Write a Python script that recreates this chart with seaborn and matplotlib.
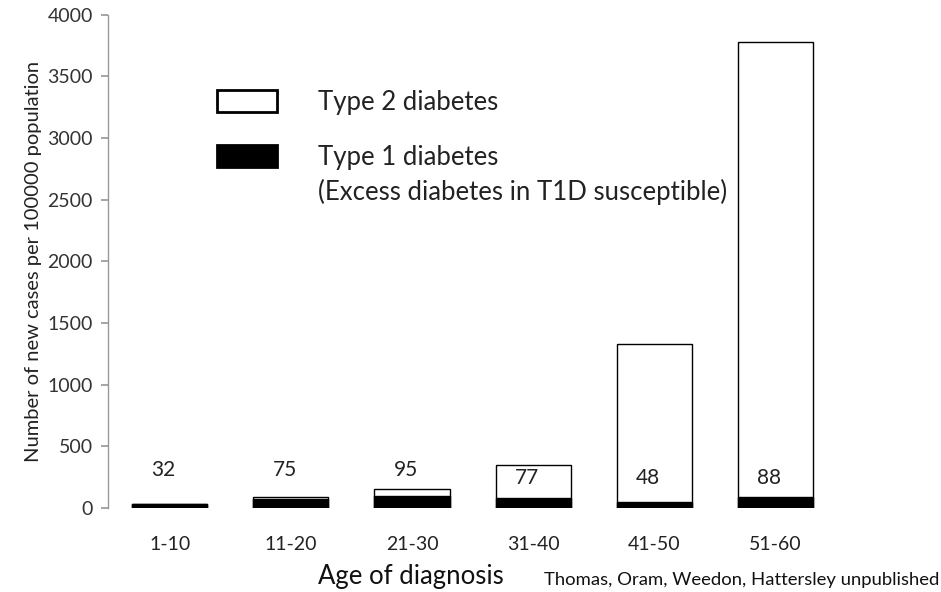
import matplotlib
matplotlib.use("Agg")
import matplotlib.pyplot as plt
import seaborn as sns
import pandas as pd
from matplotlib.patches import Patch

# === DATA ===
age_groups = ["1-10", "11-20", "21-30", "31-40", "41-50", "51-60"]
type1_cases = [32, 75, 95, 77, 48, 88]
type2_cases = [0, 15, 55, 273, 1282, 3692]
total_cases = [a + b for a, b in zip(type1_cases, type2_cases)]

df = pd.DataFrame({"age": age_groups, "type1": type1_cases, "total": total_cases})

sns.set_theme(style="white")
plt.rcParams["font.family"] = ["Lato", "DejaVu Sans"]

fig = plt.figure(figsize=(9.41, 5.92), dpi=100)
ax = fig.add_axes([0.1148, 0.142, 0.78, 0.833])

# white bar = total (Type 2 on top), black bar = Type 1 part
sns.barplot(data=df, x="age", y="total", color="white", edgecolor="black",
            linewidth=1.0, width=0.62, saturation=1, ax=ax)
sns.barplot(data=df, x="age", y="type1", color="black", edgecolor="black",
            linewidth=1.0, width=0.62, saturation=1, ax=ax)

# Type 1 numbers
for i, v in enumerate(type1_cases):
    y = 310 if total_cases[i] < 300 else 245
    ax.text(i - 0.05, y, str(v), ha="center", va="center", fontsize=15, color="#222222")

ax.set_ylim(0, 4000)
ax.set_xlim(-0.51, 5.55)
ax.set_yticks(range(0, 4001, 500))
ax.set_ylabel("Number of new cases per 100000 population", fontsize=14.5, color="#222222")
ax.set_xlabel("")
ax.tick_params(axis="y", left=True, length=5, color="#999999", labelsize=14, labelcolor="#333333", pad=6)
ax.tick_params(axis="x", bottom=False, labelsize=14, labelcolor="#222222", pad=14)

for s in ["top", "right", "bottom"]:
    ax.spines[s].set_visible(False)
ax.spines["left"].set_color("#999999")
ax.spines["left"].set_linewidth(1.0)

handles = [Patch(facecolor="white", edgecolor="black", linewidth=2),
           Patch(facecolor="black", edgecolor="black", linewidth=2)]
ax.legend(handles, ["Type 2 diabetes", "Type 1 diabetes"], loc="upper left",
          bbox_to_anchor=(0.148, 0.848), frameon=False, fontsize=18.5,
          borderpad=0, borderaxespad=0,
          handlelength=2.33, handleheight=0.93, handletextpad=1.6, labelspacing=1.18,
          labelcolor="#222222")
ax.text(0.286, 0.64, "(Excess diabetes in T1D susceptible)", transform=ax.transAxes,
        fontsize=18.5, color="#222222", va="center")

fig.text(0.338, 0.013, "Age of diagnosis", fontsize=18.5, color="#111111")
fig.text(0.578, 0.012, "Thomas, Oram, Weedon, Hattersley unpublished", fontsize=13.3, color="#111111")

fig.savefig("out.png", dpi=100)
